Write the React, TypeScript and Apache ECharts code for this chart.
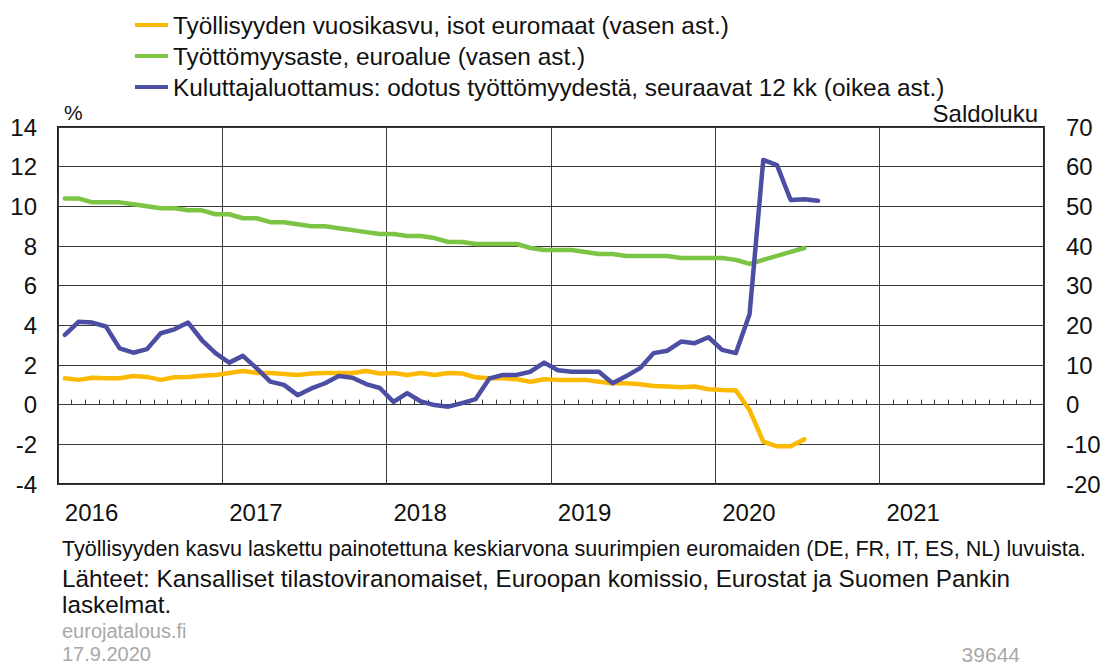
import React, { useEffect, useRef } from "react";
import * as echarts from "echarts";

const FONT = "'Liberation Sans', Arial, Helvetica, sans-serif";

const years = ["2016", "2017", "2018", "2019", "2020", "2021"];
const monthNums = ["01", "02", "03", "04", "05", "06", "07", "08", "09", "10", "11", "12"];
const months: string[] = [];
years.forEach((y) => monthNums.forEach((m) => months.push(`${y}-${m}`)));

// Työllisyyden vuosikasvu (%), tammikuu 2016 – heinäkuu 2020
const employmentGrowth = [
  1.33, 1.25, 1.36, 1.33, 1.33, 1.45, 1.4, 1.25, 1.38, 1.4, 1.46, 1.5,
  1.6, 1.7, 1.6, 1.6, 1.55, 1.5, 1.57, 1.6, 1.6, 1.6, 1.7, 1.57,
  1.6, 1.5, 1.6, 1.5, 1.6, 1.57, 1.38, 1.33, 1.33, 1.28, 1.16, 1.28,
  1.25, 1.25, 1.25, 1.16, 1.08, 1.08, 1.03, 0.94, 0.92, 0.88, 0.92, 0.78,
  0.74, 0.72, -0.27, -1.86, -2.1, -2.1, -1.75,
];

// Työttömyysaste, euroalue (%), tammikuu 2016 – heinäkuu 2020
const unemploymentRate = [
  10.4, 10.4, 10.2, 10.2, 10.2, 10.1, 10.0, 9.9, 9.9, 9.8, 9.8, 9.6,
  9.6, 9.4, 9.4, 9.2, 9.2, 9.1, 9.0, 9.0, 8.9, 8.8, 8.7, 8.6,
  8.6, 8.5, 8.5, 8.4, 8.2, 8.2, 8.1, 8.1, 8.1, 8.1, 7.9, 7.8,
  7.8, 7.8, 7.7, 7.6, 7.6, 7.5, 7.5, 7.5, 7.5, 7.4, 7.4, 7.4,
  7.4, 7.3, 7.1, 7.3, 7.5, 7.7, 7.9,
];

// Kuluttajaluottamus: odotus työttömyydestä (saldoluku), tammikuu 2016 – elokuu 2020
const unemploymentExpectation = [
  17.6, 20.9, 20.7, 19.7, 14.2, 13.1, 14.0, 18.0, 19.0, 20.7, 16.3, 13.0,
  10.6, 12.3, 9.2, 5.8, 5.0, 2.4, 4.1, 5.4, 7.2, 6.8, 5.2, 4.2,
  0.7, 2.9, 0.8, -0.1, -0.5, 0.4, 1.4, 6.6, 7.5, 7.5, 8.3, 10.6,
  8.7, 8.3, 8.3, 8.3, 5.4, 7.2, 9.2, 13.0, 13.6, 15.9, 15.5, 17.0,
  13.8, 13.0, 22.8, 61.7, 60.4, 51.6, 51.8, 51.4,
];

const seriesNames = [
  "Työllisyyden vuosikasvu, isot euromaat (vasen ast.)",
  "Työttömyysaste, euroalue (vasen ast.)",
  "Kuluttajaluottamus: odotus työttömyydestä, seuraavat 12 kk (oikea ast.)",
];
const seriesColors = ["#FBB900", "#7CC444", "#4B4EA3"];

const leftAxisName = "%";
const rightAxisName = "Saldoluku";

const footnote = "Työllisyyden kasvu laskettu painotettuna keskiarvona suurimpien euromaiden (DE, FR, IT, ES, NL) luvuista.";
const sourceLine1 = "Lähteet: Kansalliset tilastoviranomaiset, Euroopan komissio, Eurostat ja Suomen Pankin";
const sourceLine2 = "laskelmat.";
const siteText = "eurojatalous.fi";
const dateText = "17.9.2020";
const chartId = "39644";

export default function App() {
  const ref = useRef<HTMLDivElement>(null);

  useEffect(() => {
    if (!ref.current) return;
    const chart = echarts.init(ref.current, null, { renderer: "svg" });
    const textColor = "#111";
    const gridColor = "#3a3a3a";
    const grey = "#a8a8a8";

    const option: any = {
      animation: false,
      backgroundColor: "#fff",
      textStyle: { fontFamily: FONT },
      legend: {
        orient: "vertical",
        left: 130,
        top: 8,
        itemGap: 7,
        itemWidth: 33,
        itemHeight: 4,
        icon: "rect",
        selectedMode: false,
        textStyle: { fontSize: 24.4, lineHeight: 24, color: textColor, fontFamily: FONT },
        data: seriesNames,
      },
      grid: {
        left: 58,
        right: 61,
        top: 127,
        bottom: 181,
        show: true,
        borderColor: "#222",
        borderWidth: 2,
        containLabel: false,
      },
      xAxis: [
        {
          type: "category",
          data: months,
          boundaryGap: true,
          axisLine: { show: false, onZero: false },
          axisTick: { show: false },
          splitLine: {
            show: true,
            interval: (i: number) => i % 12 === 0,
            lineStyle: { color: gridColor, width: 1 },
          },
          axisLabel: {
            interval: (i: number) => i % 12 === 0,
            formatter: (v: string) => v.slice(0, 4),
            align: "left",
            margin: 16,
            fontSize: 24,
            color: textColor,
            fontFamily: FONT,
          },
        },
        {
          type: "category",
          data: months,
          boundaryGap: true,
          position: "bottom",
          axisLine: { show: true, onZero: true, onZeroAxisIndex: 0, lineStyle: { color: gridColor, width: 1 } },
          axisTick: { show: true, inside: true, length: 5, interval: 0, lineStyle: { color: gridColor, width: 1 } },
          axisLabel: { show: false },
          splitLine: { show: false },
        },
      ],
      yAxis: [
        {
          type: "value",
          min: -4,
          max: 14,
          interval: 2,
          position: "left",
          name: leftAxisName,
          nameLocation: "end",
          nameGap: 4,
          nameTextStyle: { fontSize: 21, color: textColor, align: "left", verticalAlign: "bottom", padding: [0, 0, 0, 6], fontFamily: FONT },
          axisLine: { show: false },
          axisTick: { show: false },
          axisLabel: { fontSize: 24, color: textColor, margin: 21, fontFamily: FONT },
          splitLine: { show: true, lineStyle: { color: gridColor, width: 1 } },
        },
        {
          type: "value",
          min: -20,
          max: 70,
          interval: 10,
          position: "right",
          name: rightAxisName,
          nameLocation: "end",
          nameGap: 2,
          nameTextStyle: { fontSize: 24, color: textColor, align: "right", verticalAlign: "bottom", padding: [0, 6, 0, 0], fontFamily: FONT },
          axisLine: { show: false },
          axisTick: { show: false },
          axisLabel: { fontSize: 24, color: textColor, margin: 22, fontFamily: FONT },
          splitLine: { show: false },
        },
      ],
      series: [
        {
          name: seriesNames[0],
          type: "line",
          xAxisIndex: 0,
          yAxisIndex: 0,
          data: employmentGrowth,
          showSymbol: false,
          symbol: "none",
          lineStyle: { color: seriesColors[0], width: 4.5, join: "round", cap: "round" },
          itemStyle: { color: seriesColors[0] },
          z: 3,
        },
        {
          name: seriesNames[1],
          type: "line",
          xAxisIndex: 0,
          yAxisIndex: 0,
          data: unemploymentRate,
          showSymbol: false,
          symbol: "none",
          lineStyle: { color: seriesColors[1], width: 4.5, join: "round", cap: "round" },
          itemStyle: { color: seriesColors[1] },
          z: 4,
        },
        {
          name: seriesNames[2],
          type: "line",
          xAxisIndex: 0,
          yAxisIndex: 1,
          data: unemploymentExpectation,
          showSymbol: false,
          symbol: "none",
          lineStyle: { color: seriesColors[2], width: 4.5, join: "round", cap: "round" },
          itemStyle: { color: seriesColors[2] },
          z: 5,
        },
      ],
      graphic: [
        { type: "text", x: 62, y: 548, style: { text: footnote, fontSize: 21.6, fontFamily: FONT, fill: textColor, textVerticalAlign: "middle" } },
        { type: "text", x: 62, y: 578, style: { text: sourceLine1, fontSize: 24.3, fontFamily: FONT, fill: textColor, textVerticalAlign: "middle" } },
        { type: "text", x: 62, y: 604, style: { text: sourceLine2, fontSize: 24.3, fontFamily: FONT, fill: textColor, textVerticalAlign: "middle" } },
        { type: "text", x: 62, y: 631, style: { text: siteText, fontSize: 20, fontFamily: FONT, fill: grey, textVerticalAlign: "middle" } },
        { type: "text", x: 62, y: 654, style: { text: dateText, fontSize: 20, fontFamily: FONT, fill: grey, textVerticalAlign: "middle" } },
        { type: "text", x: 1020, y: 654, style: { text: chartId, fontSize: 21, fontFamily: FONT, fill: grey, textAlign: "right", textVerticalAlign: "middle" } },
      ],
    };

    chart.setOption(option);
    return () => chart.dispose();
  }, []);

  return (
    <div
      ref={ref}
      style={{ position: "fixed", left: 0, top: 0, width: 1105, height: 665, background: "#fff" }}
    />
  );
}
